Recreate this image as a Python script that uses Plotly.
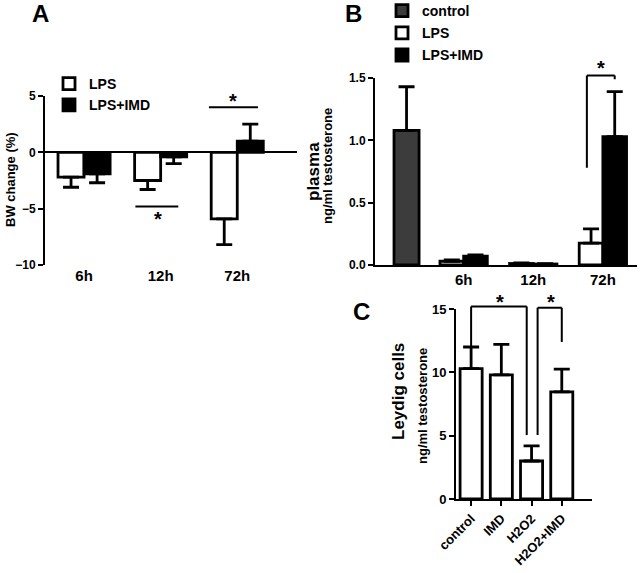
import plotly.graph_objects as go

W, H = 641, 573
FONT = "Liberation Sans, Arial, sans-serif"

# ---------------- data ----------------
# Panel A: body-weight change (%)
a_cats = ["6h", "12h", "72h"]
a_lps = [-2.2, -2.5, -5.9]
a_lps_err = [0.9, 0.8, 2.3]
a_imd = [-1.9, -0.4, 1.0]
a_imd_err = [0.8, 0.6, 1.5]

# Panel B: plasma testosterone (ng/ml)
b_cats = ["ctrl", "6h", "12h", "72h"]
b_ticktext = ["", "6h", "12h", "72h"]
b_ctrl_cat = ["ctrl"]
b_ctrl = [1.08]
b_ctrl_err = [0.35]
b_time = ["6h", "12h", "72h"]
b_lps = [0.03, 0.012, 0.175]
b_lps_err = [0.01, 0.004, 0.115]
b_imd = [0.07, 0.008, 1.03]
b_imd_err = [0.012, 0.003, 0.36]

# Panel C: Leydig cells testosterone (ng/ml)
c_cats = ["control", "IMD", "H2O2", "H2O2+IMD"]
c_vals = [10.3, 9.8, 3.0, 8.45]
c_err = [1.7, 2.4, 1.2, 1.8]

# ---------------- layout geometry ----------------
AX = [45 / W, 297 / W]; AY = [1 - 265 / H, 1 - 96 / H]
A_XR = [-0.51, 2.78]; A_YR = [-10, 5]
BX = [375 / W, 637 / W]; BY = [1 - 265 / H, 1 - 78 / H]
B_XR = [-0.273, 3.49]; B_YR = [0, 1.5]
CX = [456 / W, 592 / W]; CY = [1 - 499 / H, 1 - 309 / H]
C_XR = [-0.5, 4.0]; C_YR = [0, 15]


def to_paper(dom, rng, v):
    return dom[0] + (v - rng[0]) / (rng[1] - rng[0]) * (dom[1] - dom[0])


def up_only(vals, errs):
    return [e if v >= 0 else 0 for v, e in zip(vals, errs)]


def down_only(vals, errs):
    return [e if v < 0 else 0 for v, e in zip(vals, errs)]


fig = go.Figure()
LW = 2.8
ebar = dict(color="black", thickness=2.8, width=8)

# Panel A bars
fig.add_trace(go.Bar(
    x=a_cats, y=a_lps, name="LPS", xaxis="x", yaxis="y",
    offset=-0.34, width=0.34,
    marker=dict(color="white", line=dict(color="black", width=LW)),
    error_y=dict(type="data", symmetric=False, array=up_only(a_lps, a_lps_err),
                 arrayminus=down_only(a_lps, a_lps_err), **ebar),
    legend="legend", legendgroup="a1"))
fig.add_trace(go.Bar(
    x=a_cats, y=a_imd, name="LPS+IMD", xaxis="x", yaxis="y",
    offset=0, width=0.34,
    marker=dict(color="black", line=dict(color="black", width=LW)),
    error_y=dict(type="data", symmetric=False, array=up_only(a_imd, a_imd_err),
                 arrayminus=down_only(a_imd, a_imd_err), **ebar),
    legend="legend", legendgroup="a2"))

# Panel B bars
fig.add_trace(go.Bar(
    x=b_ctrl_cat, y=b_ctrl, name="control", xaxis="x2", yaxis="y2",
    offset=0, width=0.36,
    marker=dict(color="#3c3c3c", line=dict(color="black", width=LW)),
    error_y=dict(type="data", array=b_ctrl_err, symmetric=False, arrayminus=[0], **ebar),
    legend="legend2", legendgroup="b1"))
fig.add_trace(go.Bar(
    x=b_time, y=b_lps, name="LPS", xaxis="x2", yaxis="y2",
    offset=-0.34, width=0.34,
    marker=dict(color="white", line=dict(color="black", width=LW)),
    error_y=dict(type="data", array=b_lps_err, symmetric=False, arrayminus=[0, 0, 0], **ebar),
    legend="legend2", legendgroup="b2"))
fig.add_trace(go.Bar(
    x=b_time, y=b_imd, name="LPS+IMD", xaxis="x2", yaxis="y2",
    offset=0, width=0.34,
    marker=dict(color="black", line=dict(color="black", width=LW)),
    error_y=dict(type="data", array=b_imd_err, symmetric=False, arrayminus=[0, 0, 0], **ebar),
    legend="legend2", legendgroup="b3"))

# Panel C bars
fig.add_trace(go.Bar(
    x=c_cats, y=c_vals, name="Leydig", xaxis="x3", yaxis="y3",
    width=0.73, showlegend=False,
    marker=dict(color="white", line=dict(color="black", width=LW)),
    error_y=dict(type="data", array=c_err, symmetric=False, arrayminus=[0, 0, 0, 0], **ebar)))

# ---------------- significance markers ----------------
shapes = []
annos = []


def seg(dx, xr, dy, yr, x0, y0, x1, y1):
    shapes.append(dict(type="line", xref="paper", yref="paper",
                       x0=to_paper(dx, xr, x0), y0=to_paper(dy, yr, y0),
                       x1=to_paper(dx, xr, x1), y1=to_paper(dy, yr, y1),
                       line=dict(color="black", width=2)))


def star(dx, xr, dy, yr, x, y):
    annos.append(dict(text="<b>*</b>", xref="paper", yref="paper",
                      x=to_paper(dx, xr, x), y=to_paper(dy, yr, y),
                      xanchor="center", yanchor="middle",
                      showarrow=False, font=dict(size=20, color="black", family=FONT)))


# A
seg(AX, A_XR, AY, A_YR, 0.67, -4.8, 1.23, -4.8)
star(AX, A_XR, AY, A_YR, 0.96, -5.9)
seg(AX, A_XR, AY, A_YR, 1.63, 4.0, 2.27, 4.0)
star(AX, A_XR, AY, A_YR, 1.95, 4.55)
# B
seg(BX, B_XR, BY, B_YR, 2.77, 1.52, 3.17, 1.52)
seg(BX, B_XR, BY, B_YR, 2.77, 1.52, 2.77, 0.78)
seg(BX, B_XR, BY, B_YR, 3.17, 1.52, 3.17, 1.49)
star(BX, B_XR, BY, B_YR, 2.97, 1.58)
# C
seg(CX, C_XR, CY, C_YR, 0, 15.2, 1.84, 15.2)
seg(CX, C_XR, CY, C_YR, 0, 15.2, 0, 12.0)
seg(CX, C_XR, CY, C_YR, 1.84, 15.2, 1.84, 5.05)
seg(CX, C_XR, CY, C_YR, 2.2, 15.1, 3.0, 15.1)
seg(CX, C_XR, CY, C_YR, 2.2, 15.1, 2.2, 5.05)
seg(CX, C_XR, CY, C_YR, 3.0, 15.1, 3.0, 12.4)
star(CX, C_XR, CY, C_YR, 0.95, 15.55)
star(CX, C_XR, CY, C_YR, 2.65, 15.55)

# panel letters
for letter, x, y in [("A", 40, 13), ("B", 354, 13), ("C", 361, 311)]:
    annos.append(dict(text="<b>%s</b>" % letter, xref="paper", yref="paper",
                      x=x / W, y=1 - y / H, showarrow=False,
                      xanchor="center", yanchor="middle",
                      font=dict(size=24, color="black", family=FONT)))


# axis titles
def vtitle(text, x, y, size):
    annos.append(dict(text="<b>%s</b>" % text, xref="paper", yref="paper",
                      x=x / W, y=1 - y / H, showarrow=False, textangle=-90,
                      xanchor="center", yanchor="middle",
                      font=dict(size=size, color="black", family=FONT)))


vtitle("BW change (%)", 10, 180, 13)
vtitle("plasma", 313, 172, 17)
vtitle("ng/ml testosterone", 327, 166, 13)
vtitle("Leydig cells", 398, 392, 17)
vtitle("ng/ml testosterone", 422, 406, 13)

tickfont = dict(family=FONT, size=12, color="black", weight="bold")
ctickfont = dict(family=FONT, size=13, color="black", weight="bold")
catfont = dict(family=FONT, size=15, color="black", weight="bold")
yaxis_common = dict(showline=True, linecolor="black", linewidth=2, ticks="outside",
                    ticklen=5, tickwidth=2, tickcolor="black", showgrid=False,
                    zeroline=False, tickfont=tickfont, fixedrange=True,
                    automargin=False)

fig.update_layout(
    template="none",
    width=W, height=H, margin=dict(l=0, r=0, t=0, b=0, pad=0, autoexpand=False),
    paper_bgcolor="white", plot_bgcolor="white",
    barmode="overlay",
    font=dict(family=FONT, color="black"),
    xaxis=dict(domain=AX, range=A_XR, type="category", categoryorder="array",
               categoryarray=a_cats, showline=False, ticks="", showgrid=False,
               tickfont=catfont, anchor="y", automargin=False),
    yaxis=dict(domain=AY, range=A_YR, tickvals=[-10, -5, 0, 5], anchor="x",
               **{**yaxis_common, "zeroline": True, "zerolinecolor": "black",
                  "zerolinewidth": 2}),
    xaxis2=dict(domain=BX, range=B_XR, type="category", categoryorder="array",
                categoryarray=b_cats, tickvals=b_cats, ticktext=b_ticktext,
                showline=True, linecolor="black", linewidth=2, ticks="",
                showgrid=False, tickfont=catfont, anchor="y2", automargin=False),
    yaxis2=dict(domain=BY, range=B_YR, tickvals=[0, 0.5, 1.0, 1.5], tickformat=".1f",
                anchor="x2", **yaxis_common),
    xaxis3=dict(domain=CX, range=C_XR, type="category", categoryorder="array",
                categoryarray=c_cats, showline=True, linecolor="black", linewidth=2,
                ticks="outside", ticklen=5, tickwidth=2, tickcolor="black",
                showgrid=False, tickangle=-45, tickfont=ctickfont, anchor="y3",
                automargin=False),
    yaxis3=dict(domain=CY, range=C_YR, tickvals=[0, 5, 10, 15], anchor="x3",
                **{**yaxis_common, "tickfont": ctickfont}),
    legend=dict(x=49 / W, y=1 - 68 / H, xanchor="left", yanchor="top",
                bgcolor="rgba(0,0,0,0)", borderwidth=0, tracegroupgap=0,
                font=dict(family=FONT, size=14, color="black", weight="bold")),
    legend2=dict(x=382 / W, y=1 + 5 / H, xanchor="left", yanchor="top",
                 bgcolor="rgba(0,0,0,0)", borderwidth=0, tracegroupgap=1,
                 font=dict(family=FONT, size=14, color="black", weight="bold")),
    shapes=shapes, annotations=annos, showlegend=True,
)

fig.write_html("out.html", config={"displayModeBar": False},
               post_script="document.body.style.margin='0';document.body.style.padding='0';")
